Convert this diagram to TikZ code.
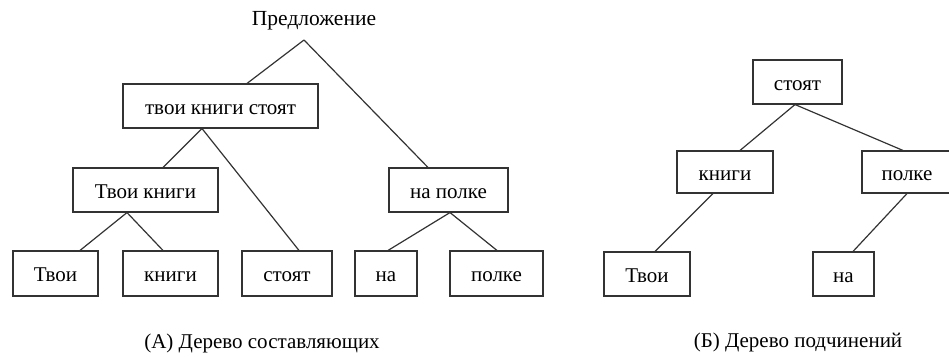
\documentclass[tikz,border=0pt]{standalone}
\usepackage{fontspec}
\setmainfont{Liberation Serif}
\begin{document}
\begin{tikzpicture}[x=1pt,y=-1pt,
  wordbox/.style={draw=black!80, line width=1.1pt, inner sep=0pt, minimum height=44pt,
    text height=16pt, text depth=0pt, font=\fontsize{21}{24}\selectfont},
  link/.style={draw=black!80, line width=1.2pt},
  caption/.style={inner sep=0pt, font=\fontsize{21}{24}\selectfont}]
\useasboundingbox (0,0) rectangle (949,356);

% (A) constituency tree
\node[inner sep=0pt, font=\fontsize{21.5}{24}\selectfont] (pred) at (314,21) {Предложение};
\coordinate (apex) at (304,40);
\node[wordbox, minimum width=195pt] (tks) at (220.5,106) {твои книги стоят};
\node[wordbox, minimum width=145pt] (tk) at (145.5,190) {Твои книги};
\node[wordbox, minimum width=119pt] (np) at (448.5,190) {на полке};
\node[wordbox, minimum width=85pt, minimum height=45pt] (a1) at (55.5,273.5) {Твои};
\node[wordbox, minimum width=95pt, minimum height=45pt] (a2) at (170.5,273.5) {книги};
\node[wordbox, minimum width=90pt, minimum height=45pt] (a3) at (287,273.5) {стоят};
\node[wordbox, minimum width=62pt, minimum height=45pt] (a4) at (386,273.5) {на};
\node[wordbox, minimum width=93pt, minimum height=45pt] (a5) at (496.5,273.5) {полке};
\node[caption] (capA) at (262,343) {(А) Дерево составляющих};

\draw[link] (apex) -- ([xshift=26.5pt]tks.north);
\draw[link] (apex) -- ([xshift=-20.5pt]np.north);
\draw[link] ([xshift=-18.5pt]tks.south) -- ([xshift=17.5pt]tk.north);
\draw[link] ([xshift=-18.5pt]tks.south) -- ([xshift=12pt]a3.north);
\draw[link] ([xshift=-18.5pt]tk.south) -- ([xshift=24.5pt]a1.north);
\draw[link] ([xshift=-18.5pt]tk.south) -- ([xshift=-7.5pt]a2.north);
\draw[link] ([xshift=1.5pt]np.south) -- ([xshift=2pt]a4.north);
\draw[link] ([xshift=1.5pt]np.south) -- ([xshift=0.5pt]a5.north);

% (B) dependency tree
\node[wordbox, minimum width=89pt] (b0) at (797.5,82) {стоят};
\node[wordbox, minimum width=96pt, minimum height=42pt] (b1) at (725,172) {книги};
\node[wordbox, minimum width=90pt, minimum height=42pt] (b2) at (907,172) {полке};
\node[wordbox, minimum width=86pt] (b3) at (647,274) {Твои};
\node[wordbox, minimum width=61pt] (b4) at (843.5,274) {на};
\node[caption] (capB) at (798,342) {(Б) Дерево подчинений};

\draw[link] ([xshift=-2.5pt]b0.south) -- ([xshift=15pt]b1.north);
\draw[link] ([xshift=-2.5pt]b0.south) -- ([xshift=-4pt]b2.north);
\draw[link] ([xshift=-12pt]b1.south) -- ([xshift=8pt]b3.north);
\draw[link] (b2.south) -- ([xshift=9.5pt]b4.north);
\end{tikzpicture}
\end{document}
